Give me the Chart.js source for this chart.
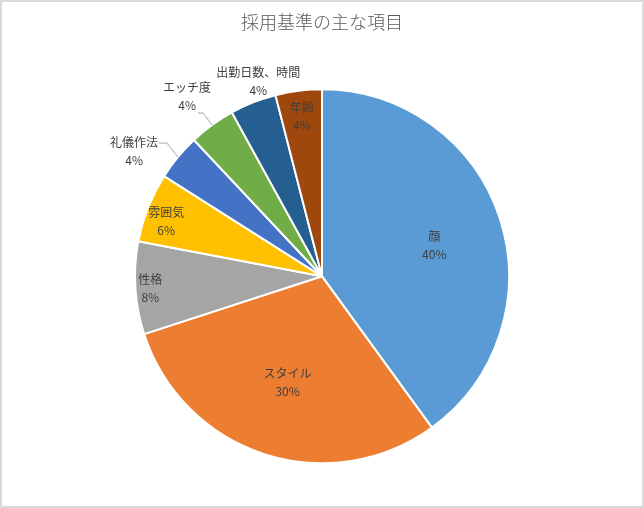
<!DOCTYPE html>
<html lang="ja">
<head>
<meta charset="utf-8">
<title>採用基準の主な項目</title>
<script src="https://cdn.jsdelivr.net/npm/chart.js@4.4.1/dist/chart.umd.min.js"></script>
<style>
    html, body { margin: 0; padding: 0; background: #fff; }
    #wrap { width: 644px; height: 508px; position: relative; }
</style>
</head>
<body>
<div id="wrap"><canvas id="pieChart"></canvas></div>
<script>
// ===============================
// Data
// ===============================
const chartTitle = '採用基準の主な項目';
const categories = ['顔', 'スタイル', '性格', '雰囲気', '礼儀作法', 'エッチ度', '出勤日数、時間', '年齢'];
const shares = [40, 30, 8, 6, 4, 4, 4, 4];
const sliceColors = ['#5B9BD5', '#ED7D31', '#A5A5A5', '#FFC000', '#4472C4', '#70AD47', '#255E91', '#9E480E'];

// label placement: [distance as fraction of radius, dx, dy]
const labelPlace = [
    [0.62, 2, 5],
    [0.595, 0, 0],
    [0.92, 0, 1],
    [0.885, -2, 6],
    [1.2, -15, 18],
    [1.2, -3, 2],
    [1.1, 12, -4],
    [0.86, 0, 0]
];
// leader lines: [elbow dx, elbow dy from slice edge, horizontal run] (null = none)
const leaders = [null, null, null, null, [-11, -14, -8], [-9, -12, -5], null, null];

// ===============================
// Plugins
// ===============================
const frameBorder = {
    id: 'frameBorder',
    beforeDraw(chart) {
        const ctx = chart.ctx;
        ctx.save();
        ctx.fillStyle = '#fff';
        ctx.fillRect(0, 0, chart.width, chart.height);
        ctx.strokeStyle = '#d9d9d9';
        ctx.lineWidth = 2;
        ctx.strokeRect(1, 1, chart.width - 2, chart.height - 2);
        ctx.restore();
    }
};

const sliceLabels = {
    id: 'sliceLabels',
    afterDatasetsDraw(chart) {
        const ctx = chart.ctx;
        const meta = chart.getDatasetMeta(0);
        ctx.save();
        ctx.font = '12px "Noto Sans CJK JP", "Noto Sans", sans-serif';
        ctx.textAlign = 'center';
        ctx.textBaseline = 'middle';
        meta.data.forEach((arc, i) => {
            const p = arc.getProps(['x', 'y', 'startAngle', 'endAngle', 'outerRadius'], true);
            const mid = (p.startAngle + p.endAngle) / 2;
            const ux = Math.cos(mid), uy = Math.sin(mid);
            const [f, ox, oy] = labelPlace[i];
            const lx = p.x + ux * p.outerRadius * f + ox;
            const ly = p.y + uy * p.outerRadius * f + oy;

            const ld = leaders[i];
            if (ld) {
                const ex = p.x + ux * p.outerRadius;
                const ey = p.y + uy * p.outerRadius;
                ctx.strokeStyle = '#a6a6a6';
                ctx.lineWidth = 1;
                ctx.beginPath();
                ctx.moveTo(ex, ey);
                ctx.lineTo(ex + ld[0], ey + ld[1]);
                ctx.lineTo(ex + ld[0] + ld[2], ey + ld[1]);
                ctx.stroke();
            }

            ctx.fillStyle = '#404040';
            ctx.fillText(categories[i], lx, ly - 9);
            ctx.fillText(shares[i] + '%', lx, ly + 9);
        });
        ctx.restore();
    }
};

// ===============================
// Chart
// ===============================
const ctx = document.getElementById('pieChart').getContext('2d');
new Chart(ctx, {
    type: 'pie',
    data: {
        labels: categories,
        datasets: [{
            data: shares,
            backgroundColor: sliceColors,
            borderColor: '#ffffff',
            borderWidth: 2,
            radius: 187
        }]
    },
    options: {
        responsive: true,
        maintainAspectRatio: false,
        animation: false,
        layout: { padding: { top: 0, bottom: 20, left: 0, right: 0 } },
        plugins: {
            legend: { display: false },
            tooltip: { enabled: false },
            title: {
                display: true,
                text: chartTitle,
                color: '#595959',
                font: { family: '"Noto Sans CJK JP", sans-serif', size: 18, weight: '300', lineHeight: 1.2 },
                padding: { top: 11, bottom: 32 }
            }
        }
    },
    plugins: [frameBorder, sliceLabels]
});
</script>
</body>
</html>
